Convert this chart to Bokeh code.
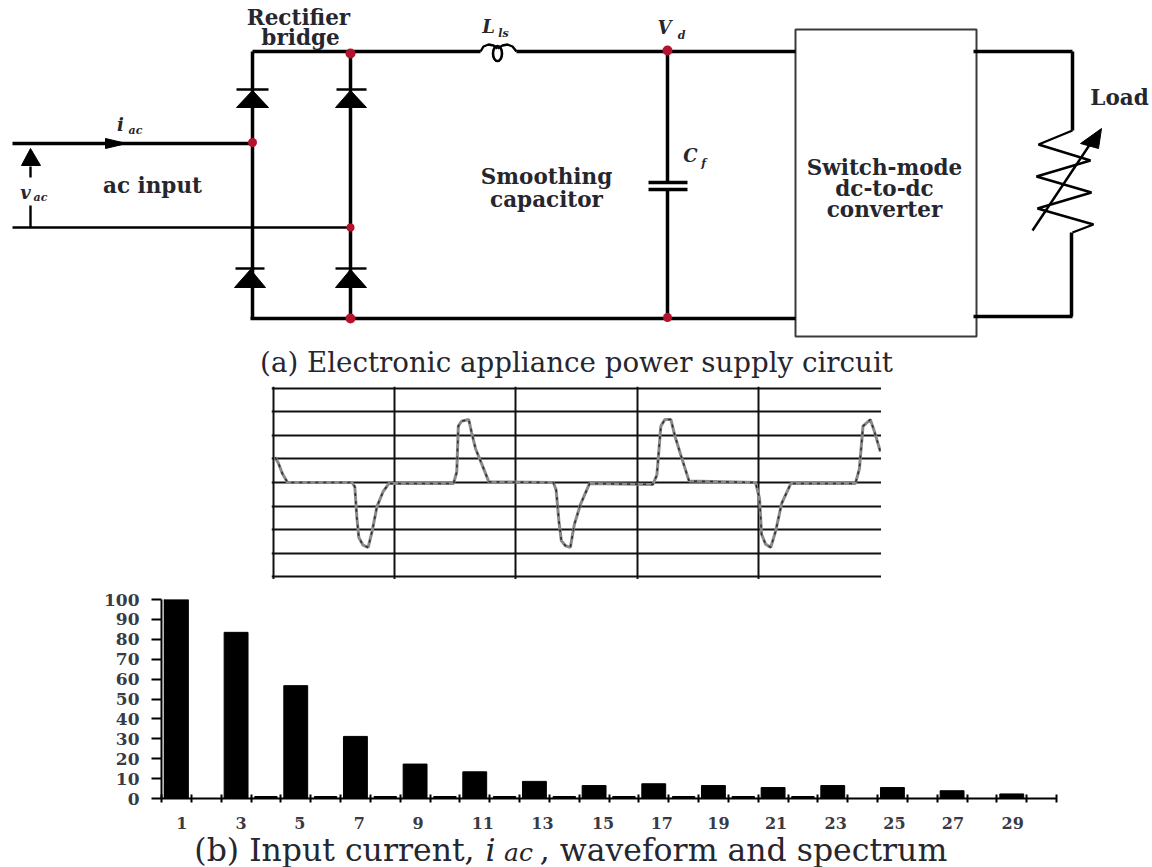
from bokeh.plotting import figure
from bokeh.layouts import column, row
from bokeh.models import Spacer, FixedTicker, Range1d
from bokeh.core.properties import value
from bokeh.embed import file_html
from bokeh.resources import INLINE

SERIF = "DejaVu Serif"
INK = "#000000"
TXT = "#26262e"
DOT = "#b5122e"

# ---------- spectrum (percent of fundamental by harmonic order) ----------
odd_orders = [1, 3, 5, 7, 9, 11, 13, 15, 17, 19, 21, 23, 25, 27, 29]
odd_percent = [100, 83.5, 56.7, 31.2, 17.3, 13.4, 8.6, 6.5, 7.4, 6.5, 5.5, 6.5, 5.5, 3.9, 2.3]
even_orders = [4, 6, 8, 10, 12, 14, 16, 18, 20, 22]
even_percent = [1, 1, 1, 1, 1, 1, 1, 1, 1, 1]
y_ticks = [0, 10, 20, 30, 40, 50, 60, 70, 80, 90, 100]
x_label_offsets = [.18, .17, .14, .13, .1, .27, .27, .3, .27, .17, .1, .1, .07, .03, .03]

# ---------- waveform (time in grid divisions, current in grid divisions) ----------
wave_t = [.013, .04, .073, .116, .648, .671, .688, .704, .738, .781, .814, .854, .904, .953,
          1.485, 1.512, 1.525, 1.551, 1.611, 1.635, 1.668, 1.718, 1.777,
          2.309, 2.332, 2.355, 2.375, 2.409, 2.449, 2.482, 2.532, 2.608,
          3.130, 3.163, 3.196, 3.229, 3.279, 3.312, 3.362, 3.429,
          3.977, 4.010, 4.027, 4.060, 4.103, 4.143, 4.193, 4.269,
          4.801, 4.834, 4.864, 4.924, 4.957, 5.007]
wave_i = [1.07, .83, .38, 0, 0, -.18, -1.5, -2.33, -2.65, -2.75, -2.06, -1.01, -.39, -.04,
          -.04, .44, 2.39, 2.6, 2.67, 2.11, 1.42, .79, .03,
          0, -.32, -1.64, -2.47, -2.68, -2.75, -1.78, -.94, -.04,
          -.08, .31, 2.39, 2.67, 2.67, 1.97, 1.14, .06,
          0, -.67, -2.19, -2.61, -2.75, -2.06, -.88, -.04,
          -.04, .58, 2.39, 2.67, 2.18, 1.31]

# ---------- circuit diagram geometry ----------
thick_wires = [
    ([252, 252], [51, 318]), ([350, 350], [51, 318]), ([252, 480], [51, 51]),
    ([516, 795], [51, 51]), ([250, 795], [318, 318]), ([12, 252], [143, 143]),
    ([667, 667], [51, 183]), ([667, 667], [188, 318]),
    ([973, 1072], [51, 51]), ([973, 1072], [316, 316]),
    ([1072, 1072], [51, 130]), ([1071, 1071], [232, 316]),
    ([648, 687], [182, 182]), ([648, 687], [189, 189]),
]
thin_wires = [
    ([12, 350], [227, 227]), ([30, 30], [205, 227]), ([30, 30], [166, 177]),
    ([480, 483, 488, 493, 497], [51, 46, 44, 45, 48]),
    ([497, 502, 507, 512, 516], [48, 45, 44, 46, 51]),
    ([1072, 1038, 1090, 1036, 1091, 1037, 1093, 1072], [130, 144, 160, 176, 192, 208, 224, 232]),
    ([1032, 1092], [230, 140]),
    ([236, 268], [89, 89]), ([336, 366], [89, 89]), ([235, 264], [268, 268]), ([335, 366], [268, 268]),
]
triangles = [
    ([236, 268, 252], [107, 107, 90]), ([335, 366, 350], [107, 107, 90]),
    ([234, 265, 250], [287, 287, 269]), ([335, 366, 350], [287, 287, 269]),
    ([105, 105, 126], [138, 148, 143]), ([21, 40, 30], [165, 165, 148]),
    ([1101, 1080, 1098], [128, 143, 148]),
]
dots_x = [350, 252, 350, 350, 667, 667]
dots_y = [53, 142, 227, 318, 50, 317]
dots_size = [10, 9, 8, 10, 10, 9]

plain_x = [298, 300, 152, 546, 546, 884, 884, 884, 1119]
plain_y = [17, 37, 185, 176, 199, 167, 188, 209, 97]
plain_txt = ["Rectifier", "bridge", "ac input", "Smoothing", "capacitor",
             "Switch-mode", "dc-to-dc", "converter", "Load"]
sym_x = [488, 664, 690, 120, 25]
sym_y = [26, 27, 155, 124, 192]
sym_txt = ["L", "V", "C", "i", "v"]
sub_x = [503, 681, 703, 135, 40]
sub_y = [33, 35, 163, 130, 197]
sub_txt = ["ls", "d", "f", "ac", "ac"]

caption_a = "(a) Electronic appliance power supply circuit"
caption_b_x = [334, 490, 518, 743]
caption_b_y = [18, 18, 21, 18]
caption_b_size = ["31.5px", "31.5px", "25px", "31.5px"]
caption_b_style = ["normal", "italic", "italic", "normal"]
caption_b = ["(b) Input current,", "i", "ac", ", waveform and spectrum"]

# ---------- top panel: circuit ----------
top = figure(width=1152, height=386, x_range=Range1d(0, 1152), y_range=Range1d(386, 0),
             output_backend="svg", toolbar_location=None, min_border=0,
             outline_line_color=None, tools="")
top.axis.visible = False
top.grid.visible = False

top.quad(left=[795], right=[976], top=[29], bottom=[336], fill_color=None,
         line_color="#3a3a3a", line_width=2)
top.multi_line([w[0] for w in thick_wires], [w[1] for w in thick_wires],
               line_color=INK, line_width=3.5)
top.multi_line([w[0] for w in thin_wires], [w[1] for w in thin_wires],
               line_color=INK, line_width=2.4)
top.ellipse(x=[497], y=[53], width=[9], height=[15], fill_color=None,
            line_color=INK, line_width=2.6)
top.patches([t[0] for t in triangles], [t[1] for t in triangles], fill_color=INK, line_color=INK)
top.scatter(dots_x, dots_y, size=dots_size, marker="circle", fill_color=DOT, line_color=None)

top.text(plain_x, plain_y, text=plain_txt, text_font=value(SERIF), text_font_style="bold",
         text_font_size="21.5px", text_align="center", text_baseline="middle", text_color=TXT)
top.text(sym_x, sym_y, text=sym_txt, text_font=value(SERIF), text_font_style="bold italic",
         text_font_size="18px", text_align="center", text_baseline="middle", text_color=TXT)
top.text(sub_x, sub_y, text=sub_txt, text_font=value(SERIF), text_font_style="bold italic",
         text_font_size="11px", text_align="center", text_baseline="middle", text_color=TXT)
top.text([576], [362], text=[caption_a], text_font=value(SERIF), text_font_size="27.7px",
         text_align="center", text_baseline="middle", text_color=TXT)

# ---------- middle panel: waveform ----------
wave = figure(width=610, height=193, x_range=Range1d(-.0165, 5.0165), y_range=Range1d(-4.11, 4.07),
              output_backend="svg", toolbar_location=None, min_border=0,
              outline_line_color=None, tools="")
wave.axis.visible = False
wave.xgrid.ticker = FixedTicker(ticks=[0, 1, 2, 3, 4])
wave.ygrid.ticker = FixedTicker(ticks=[-4, -3, -2, -1, 0, 1, 2, 3, 4])
for g in (wave.xgrid, wave.ygrid):
    g.grid_line_color = "#111111"
    g.grid_line_width = 2
    g.grid_line_alpha = 1
wave.line(wave_t, wave_i, line_color="#8a8a8a", line_width=3)
wave.line(wave_t, wave_i, line_color="#303030", line_width=1.6, line_dash="3 5")

# ---------- bottom panel: spectrum ----------
tick_pos = [o + d for o, d in zip(odd_orders, x_label_offsets)]
bars = figure(width=1152, height=252, x_range=Range1d(.5, 30.5), y_range=Range1d(0, 100),
              output_backend="svg", toolbar_location=None, tools="",
              min_border_left=161, min_border_right=96, min_border_top=20, min_border_bottom=33,
              outline_line_color=None)
bars.grid.visible = False
bars.vbar(x=odd_orders, top=odd_percent, width=.8, bottom=0, fill_color=INK, line_color=INK)
bars.vbar(x=even_orders, top=even_percent, width=.75, bottom=0, fill_color=INK, line_color=INK)
bars.ray(x=[.6], y=[0], length=100, angle=1.5708, line_color=INK, line_width=1.5)

ya = bars.yaxis[0]
ya.ticker = FixedTicker(ticks=y_ticks)
ya.major_tick_in = 0
ya.major_tick_out = 10
ya.major_tick_line_width = 2
ya.minor_tick_line_color = None
ya.axis_line_width = 2
ya.major_label_text_font = SERIF
ya.major_label_text_font_style = "bold"
ya.major_label_text_font_size = "17px"
ya.major_label_text_color = "#3a3a44"
ya.major_label_standoff = 12

xa = bars.xaxis[0]
xa.ticker = FixedTicker(ticks=tick_pos,
                        minor_ticks=[o + .5 for o in range(0, 31)])
xa.major_label_overrides = {p: str(o) for p, o in zip(tick_pos, odd_orders)}
xa.major_tick_line_color = None
xa.major_tick_in = 0
xa.major_tick_out = 0
xa.minor_tick_in = 4
xa.minor_tick_out = 4
xa.minor_tick_line_width = 2
xa.axis_line_width = 2
xa.major_label_text_font = SERIF
xa.major_label_text_font_style = "bold"
xa.major_label_text_font_size = "16px"
xa.major_label_text_color = "#3a3a44"
xa.major_label_standoff = 14

# ---------- caption strip under the spectrum ----------
caption = figure(width=1152, height=36, x_range=Range1d(0, 1152), y_range=Range1d(36, 0),
                 output_backend="svg", toolbar_location=None, min_border=0,
                 outline_line_color=None, tools="")
caption.axis.visible = False
caption.grid.visible = False
for x, y, t, s, z in zip(caption_b_x, caption_b_y, caption_b, caption_b_style, caption_b_size):
    caption.text([x], [y], text=[t], text_font=value(SERIF), text_font_style=s,
                 text_font_size=z, text_align="center", text_baseline="middle", text_color=TXT)

page = column(row(top), row(Spacer(width=271, height=193), wave), row(bars), row(caption))
open("out.html", "w").write(file_html(page, INLINE))
